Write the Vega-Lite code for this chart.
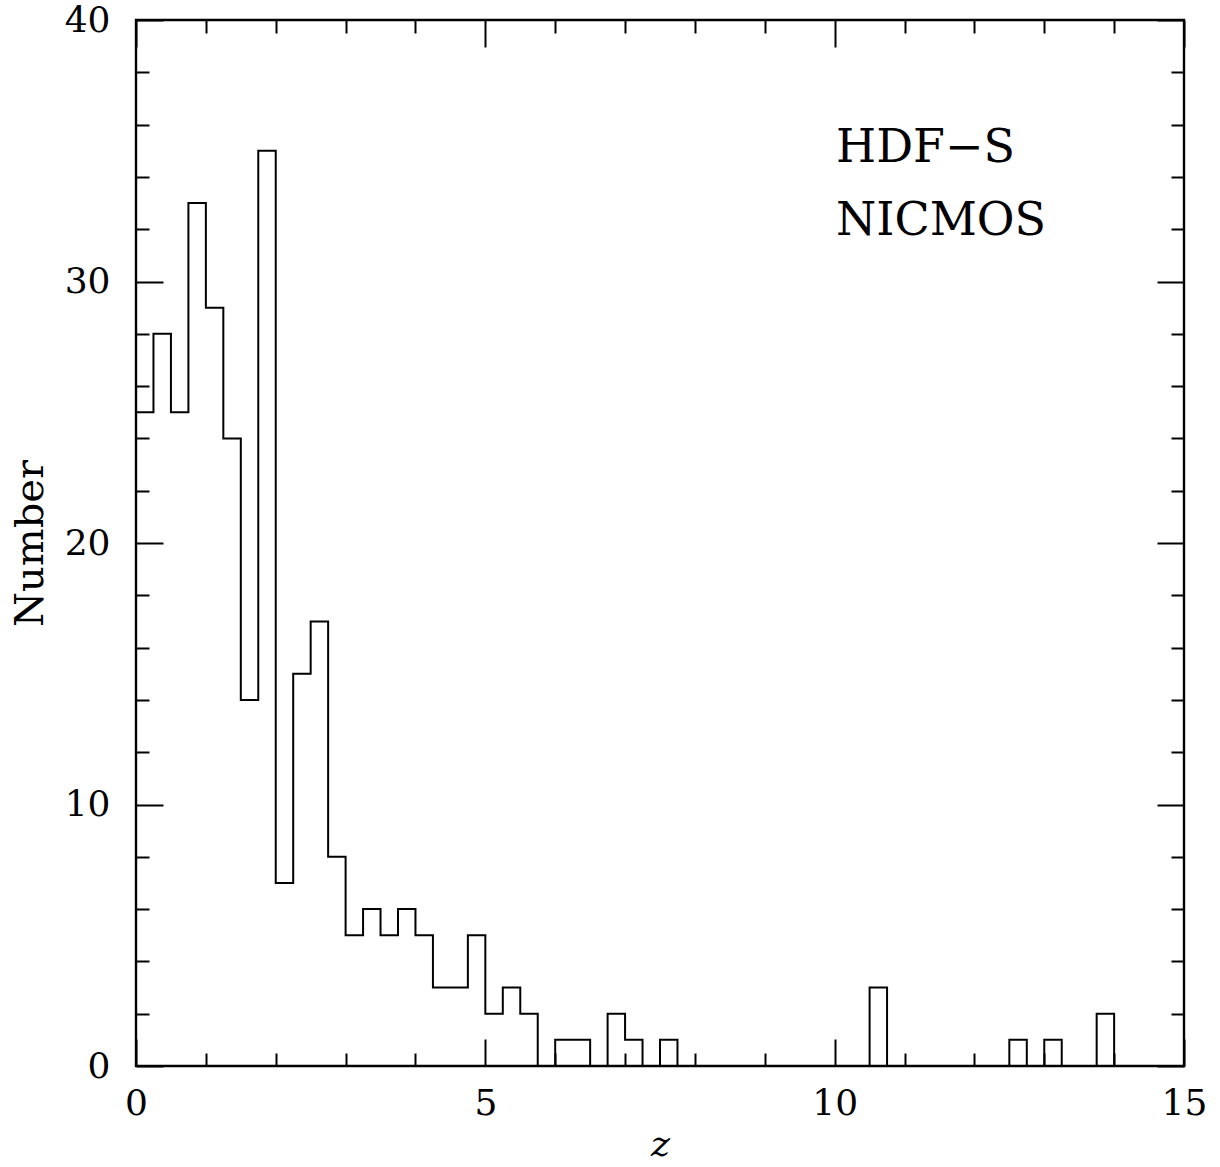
{
  "$schema": "https://vega.github.io/schema/vega-lite/v6.json",
  "width": 1048,
  "height": 1046,
  "autosize": {"type": "none"},
  "padding": {"left": 136, "top": 20, "right": 36, "bottom": 101},
  "background": "white",
  "config": {
    "view": {"stroke": "black", "strokeWidth": 2.4},
    "axis": {
      "domain": false,
      "grid": false,
      "tickColor": "black",
      "labelColor": "black",
      "titleColor": "black",
      "labelFont": "DejaVu Serif",
      "titleFont": "DejaVu Serif",
      "labelFontSize": 36,
      "titleFontWeight": "normal",
      "tickWidth": 2
    }
  },
  "datasets": {
    "hist": [
      {"z": 0, "n": 25}, {"z": 0.25, "n": 28}, {"z": 0.5, "n": 25}, {"z": 0.75, "n": 33},
      {"z": 1, "n": 29}, {"z": 1.25, "n": 24}, {"z": 1.5, "n": 14}, {"z": 1.75, "n": 35},
      {"z": 2, "n": 7}, {"z": 2.25, "n": 15}, {"z": 2.5, "n": 17}, {"z": 2.75, "n": 8},
      {"z": 3, "n": 5}, {"z": 3.25, "n": 6}, {"z": 3.5, "n": 5}, {"z": 3.75, "n": 6},
      {"z": 4, "n": 5}, {"z": 4.25, "n": 3}, {"z": 4.5, "n": 3}, {"z": 4.75, "n": 5},
      {"z": 5, "n": 2}, {"z": 5.25, "n": 3}, {"z": 5.5, "n": 2}, {"z": 5.75, "n": 0},
      {"z": 6, "n": 1}, {"z": 6.25, "n": 1}, {"z": 6.5, "n": 0}, {"z": 6.75, "n": 2},
      {"z": 7, "n": 1}, {"z": 7.25, "n": 0}, {"z": 7.5, "n": 1}, {"z": 7.75, "n": 0},
      {"z": 8, "n": 0}, {"z": 8.25, "n": 0}, {"z": 8.5, "n": 0}, {"z": 8.75, "n": 0},
      {"z": 9, "n": 0}, {"z": 9.25, "n": 0}, {"z": 9.5, "n": 0}, {"z": 9.75, "n": 0},
      {"z": 10, "n": 0}, {"z": 10.25, "n": 0}, {"z": 10.5, "n": 3}, {"z": 10.75, "n": 0},
      {"z": 11, "n": 0}, {"z": 11.25, "n": 0}, {"z": 11.5, "n": 0}, {"z": 11.75, "n": 0},
      {"z": 12, "n": 0}, {"z": 12.25, "n": 0}, {"z": 12.5, "n": 1}, {"z": 12.75, "n": 0},
      {"z": 13, "n": 1}, {"z": 13.25, "n": 0}, {"z": 13.5, "n": 0}, {"z": 13.75, "n": 2},
      {"z": 14, "n": 0}
    ]
  },
  "resolve": {"scale": {"x": "shared", "y": "shared"}, "axis": {"x": "independent", "y": "independent"}},
  "layer": [
    {
      "data": {"name": "hist"},
      "mark": {"type": "line", "interpolate": "step-after", "color": "black", "strokeWidth": 2},
      "encoding": {
        "x": {
          "field": "z", "type": "quantitative",
          "scale": {"domain": [0, 15], "nice": false, "zero": false},
          "axis": {"orient": "bottom", "values": [0, 5, 10, 15], "tickSize": -27, "labelPadding": 47,
                   "title": "z", "titleFontStyle": "italic", "titleFontSize": 36, "titlePadding": 6, "labelFlush": false}
        },
        "y": {
          "field": "n", "type": "quantitative",
          "scale": {"domain": [0, 40], "nice": false, "zero": false},
          "axis": {"orient": "left", "values": [0, 10, 20, 30, 40], "tickSize": -27, "labelPadding": 53,
                   "title": "Number", "titleFontSize": 40, "titlePadding": 14, "labelFlush": false}
        }
      }
    },
    {
      "data": {"name": "hist"},
      "mark": {"type": "line", "interpolate": "step-after", "strokeOpacity": 0},
      "encoding": {
        "x": {
          "field": "z", "type": "quantitative",
          "axis": {"orient": "bottom", "values": [1, 2, 3, 4, 6, 7, 8, 9, 11, 12, 13, 14], "tickSize": -13, "labels": false, "title": null}
        },
        "y": {
          "field": "n", "type": "quantitative",
          "axis": {"orient": "left", "values": [2, 4, 6, 8, 12, 14, 16, 18, 22, 24, 26, 28, 32, 34, 36, 38], "tickSize": -13, "labels": false, "title": null}
        }
      }
    },
    {
      "data": {"name": "hist"},
      "mark": {"type": "line", "interpolate": "step-after", "strokeOpacity": 0},
      "encoding": {
        "x": {
          "field": "z", "type": "quantitative",
          "axis": {"orient": "top", "values": [0, 5, 10, 15], "tickSize": -27, "labels": false, "title": null}
        },
        "y": {
          "field": "n", "type": "quantitative",
          "axis": {"orient": "right", "values": [0, 10, 20, 30, 40], "tickSize": -27, "labels": false, "title": null}
        }
      }
    },
    {
      "data": {"name": "hist"},
      "mark": {"type": "line", "interpolate": "step-after", "strokeOpacity": 0},
      "encoding": {
        "x": {
          "field": "z", "type": "quantitative",
          "axis": {"orient": "top", "values": [1, 2, 3, 4, 6, 7, 8, 9, 11, 12, 13, 14], "tickSize": -13, "labels": false, "title": null}
        },
        "y": {
          "field": "n", "type": "quantitative",
          "axis": {"orient": "right", "values": [2, 4, 6, 8, 12, 14, 16, 18, 22, 24, 26, 28, 32, 34, 36, 38], "tickSize": -13, "labels": false, "title": null}
        }
      }
    },
    {
      "data": {"values": [{"label": "HDF−S"}]},
      "mark": {"type": "text", "align": "left", "baseline": "alphabetic", "font": "DejaVu Serif", "fontSize": 46, "color": "black"},
      "encoding": {
        "x": {"datum": 10.02, "type": "quantitative", "axis": null},
        "y": {"datum": 34.57, "type": "quantitative", "axis": null},
        "text": {"field": "label"}
      }
    },
    {
      "data": {"values": [{"label": "NICMOS"}]},
      "mark": {"type": "text", "align": "left", "baseline": "alphabetic", "font": "DejaVu Serif", "fontSize": 46, "color": "black"},
      "encoding": {
        "x": {"datum": 10.02, "type": "quantitative", "axis": null},
        "y": {"datum": 31.78, "type": "quantitative", "axis": null},
        "text": {"field": "label"}
      }
    }
  ]
}
